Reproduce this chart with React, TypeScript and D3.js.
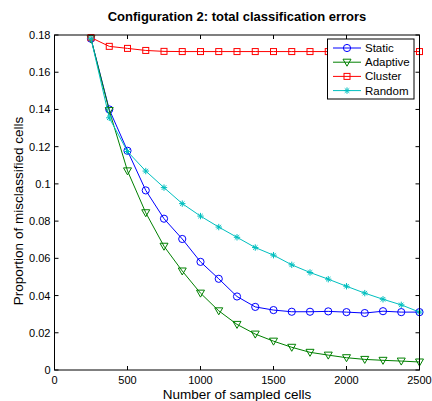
import React from "react";
import * as d3 from "d3";

const xValues = [250, 375, 500, 625, 750, 875, 1000, 1125, 1250, 1375, 1500, 1625, 1750, 1875, 2000, 2125, 2250, 2375, 2500];
const staticVals = [0.178, 0.140, 0.1178, 0.0965, 0.0813, 0.0704, 0.0581, 0.0490, 0.0395, 0.0339, 0.0322, 0.0313, 0.0313, 0.0315, 0.0311, 0.0306, 0.0316, 0.0311, 0.0311];
const adaptiveVals = [0.178, 0.1394, 0.107, 0.0845, 0.0665, 0.0532, 0.0413, 0.0318, 0.0245, 0.0193, 0.0155, 0.0122, 0.0095, 0.008, 0.0066, 0.0057, 0.0052, 0.0048, 0.0043];
const clusterVals = [0.1786, 0.1739, 0.1728, 0.1717, 0.1712, 0.1711, 0.1711, 0.1711, 0.1711, 0.1711, 0.1711, 0.1711, 0.1711, 0.1711, 0.1711, 0.1711, 0.1711, 0.1711, 0.1711];
const randomVals = [0.178, 0.1355, 0.1174, 0.1069, 0.098, 0.0894, 0.0827, 0.0768, 0.0713, 0.0658, 0.0617, 0.0565, 0.0524, 0.0488, 0.045, 0.0413, 0.038, 0.035, 0.0311];
const xTicks = [0, 500, 1000, 1500, 2000, 2500];
const yTicks = [0, 0.02, 0.04, 0.06, 0.08, 0.1, 0.12, 0.14, 0.16, 0.18];
const seriesNames = ["Static", "Adaptive", "Cluster", "Random"];
const seriesColors = ["#0000ff", "#008000", "#ff0000", "#00bfbf"];
const seriesMarkers = ["circle", "triangle", "square", "star"];

const W = 432, H = 401;
const L = 54.5, R = 419.5, T = 35, B = 370;
const font = "Liberation Sans, Arial, sans-serif";

function Marker({ type, x, y, color }: { type: string; x: number; y: number; color: string }) {
  if (type === "circle") return <circle cx={x} cy={y} r={3.6} fill="none" stroke={color} strokeWidth={1} />;
  if (type === "square") return <rect x={x - 3} y={y - 3} width={6} height={6} fill="none" stroke={color} strokeWidth={1} />;
  if (type === "triangle")
    return <path d={`M${x - 4},${y - 3} L${x + 4},${y - 3} L${x},${y + 4} Z`} fill="none" stroke={color} strokeWidth={1} />;
  const s = 3.2;
  const d = `M${x - s},${y} L${x + s},${y} M${x},${y - s} L${x},${y + s} M${x - s * 0.7},${y - s * 0.7} L${x + s * 0.7},${y + s * 0.7} M${x - s * 0.7},${y + s * 0.7} L${x + s * 0.7},${y - s * 0.7}`;
  return <path d={d} stroke={color} strokeWidth={1} fill="none" />;
}

export default function App() {
  const x = d3.scaleLinear().domain([0, 2500]).range([L, R]);
  const y = d3.scaleLinear().domain([0, 0.18]).range([B, T]);
  const series = [staticVals, adaptiveVals, clusterVals, randomVals];
  const line = d3.line<number>().x((_, i) => x(xValues[i])).y((v) => y(v));
  const tl = 4;
  const legX = 327.5, legY = 39, legW = 86.5, legH = 60;
  return (
    <svg width={W} height={H} style={{ position: "absolute", left: 0, top: 0, background: "#fff" }}>
      <rect x={0} y={0} width={W} height={H} fill="#fff" />
      <text x={237} y={21} textAnchor="middle" fontFamily={font} fontWeight="bold" fontSize={13}>
        Configuration 2: total classification errors
      </text>
      {series.map((vals, si) => (
        <g key={si}>
          <path d={line(vals) || ""} fill="none" stroke={seriesColors[si]} strokeWidth={1} />
          {vals.map((v, i) => (
            <Marker key={i} type={seriesMarkers[si]} x={x(xValues[i])} y={y(v)} color={seriesColors[si]} />
          ))}
        </g>
      ))}
      <rect x={L} y={T} width={R - L} height={B - T} fill="none" stroke="#000" strokeWidth={1} />
      {xTicks.map((t) => (
        <g key={t}>
          <line x1={x(t)} x2={x(t)} y1={B} y2={B - tl} stroke="#000" />
          <line x1={x(t)} x2={x(t)} y1={T} y2={T + tl} stroke="#000" />
          <text x={x(t)} y={384} textAnchor="middle" fontFamily={font} fontSize={11}>{t}</text>
        </g>
      ))}
      {yTicks.map((t) => (
        <g key={t}>
          <line x1={L} x2={L + tl} y1={y(t)} y2={y(t)} stroke="#000" />
          <line x1={R} x2={R - tl} y1={y(t)} y2={y(t)} stroke="#000" />
          <text x={L - 4} y={y(t) + 4} textAnchor="end" fontFamily={font} fontSize={11}>{String(t)}</text>
        </g>
      ))}
      <text x={237} y={398.5} textAnchor="middle" fontFamily={font} fontSize={13.5}>Number of sampled cells</text>
      <text transform={`translate(22.5,211) rotate(-90)`} textAnchor="middle" fontFamily={font} fontSize={13.5}>
        Proportion of misclassified cells
      </text>
      <rect x={legX} y={legY} width={legW} height={legH} fill="#fff" stroke="#000" strokeWidth={1} />
      {seriesNames.map((n, i) => {
        const yy = 48 + i * 14.2;
        return (
          <g key={n}>
            <line x1={333} x2={361} y1={yy} y2={yy} stroke={seriesColors[i]} strokeWidth={1} />
            <Marker type={seriesMarkers[i]} x={347} y={yy} color={seriesColors[i]} />
            <text x={365} y={yy + 4} fontFamily={font} fontSize={11.5}>{n}</text>
          </g>
        );
      })}
    </svg>
  );
}
